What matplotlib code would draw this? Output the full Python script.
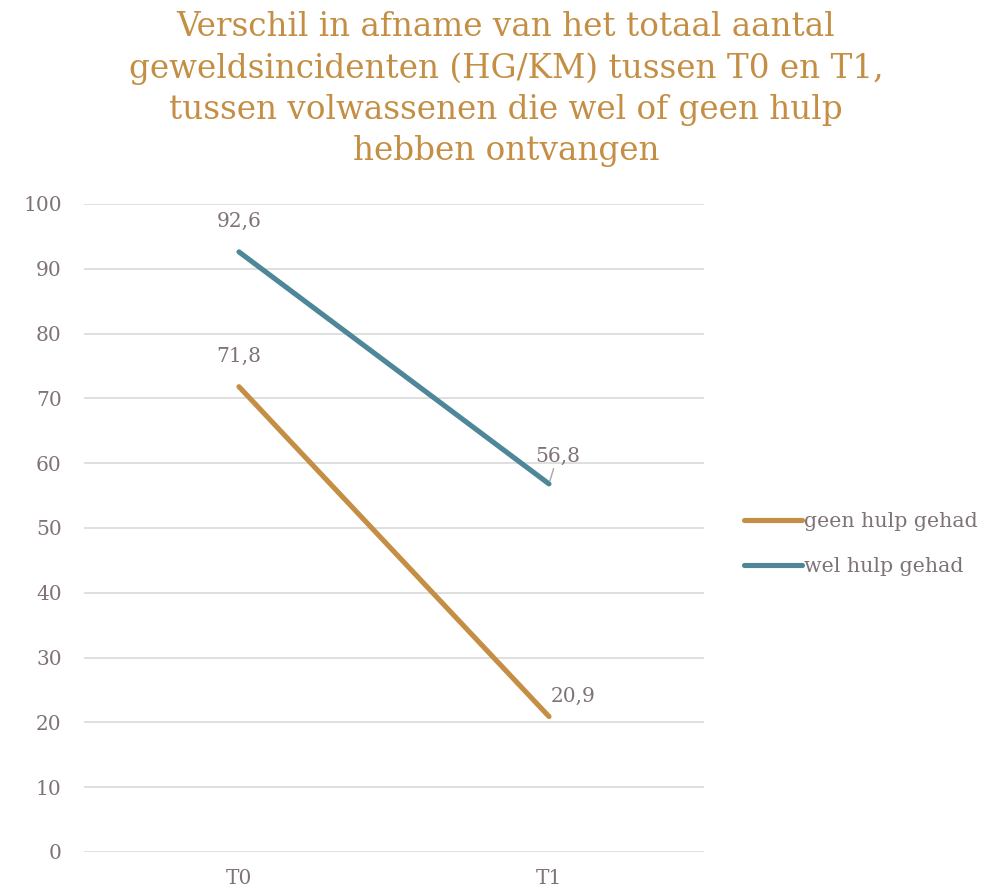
import matplotlib
matplotlib.use('Agg')
import matplotlib.pyplot as plt

# data
categories = ['T0', 'T1']
geen_hulp = [71.8, 20.9]
wel_hulp = [92.6, 56.8]
series_names = ['geen hulp gehad', 'wel hulp gehad']

title = ('Verschil in afname van het totaal aantal\n'
         'geweldsincidenten (HG/KM) tussen T0 en T1,\n'
         'tussen volwassenen die wel of geen hulp\n'
         'hebben ontvangen')

ORANGE = '#C48F44'
BLUE = '#4E8797'
TEXT = '#7F7377'
GRID = '#D9D9D9'

plt.rcParams['font.family'] = ['DejaVu Serif']

fig = plt.figure(figsize=(10.02, 8.91), dpi=100)
ax = fig.add_axes([0.0838, 0.0438, 0.6188, 0.7273])

x = list(range(len(categories)))
ax.plot(x, geen_hulp, color=ORANGE, lw=3.7, solid_capstyle='round', label=series_names[0], zorder=3)
ax.plot(x, wel_hulp, color=BLUE, lw=3.7, solid_capstyle='round', label=series_names[1], zorder=3)

ax.set_xlim(-0.5, 1.5)
ax.set_ylim(0, 100)
ax.set_yticks(range(0, 101, 10))
ax.set_xticks(x)
ax.set_xticklabels(categories)
ax.grid(axis='y', color=GRID, lw=1.2)
ax.set_axisbelow(True)
for s in ax.spines.values():
    s.set_visible(False)
ax.tick_params(axis='both', length=0, colors=TEXT, labelsize=14.5)
ax.tick_params(axis='y', pad=16)
ax.tick_params(axis='x', pad=12)

def fmt(v):
    return f'{v:.1f}'.replace('.', ',')

# data labels
lab = dict(color=TEXT, fontsize=14.5)
ax.annotate(fmt(wel_hulp[0]), (0, wel_hulp[0]), xytext=(0, 15), textcoords='offset points',
            ha='center', va='bottom', **lab)
ax.annotate(fmt(geen_hulp[0]), (0, geen_hulp[0]), xytext=(0, 15), textcoords='offset points',
            ha='center', va='bottom', **lab)
ax.annotate(fmt(geen_hulp[1]), (1, geen_hulp[1]), xytext=(1, 8), textcoords='offset points',
            ha='left', va='bottom', **lab)
ax.annotate(fmt(wel_hulp[1]), (1, wel_hulp[1]), xytext=(6, 13), textcoords='offset points',
            ha='center', va='bottom', **lab,
            arrowprops=dict(arrowstyle='-', color='#A6A6A6', lw=1, shrinkA=0, shrinkB=2))

leg = ax.legend(loc='center left', bbox_to_anchor=(1.035, 0.475), frameon=False,
                fontsize=14.8, handlelength=2.8, handletextpad=0.1, labelspacing=1.25)
for t in leg.get_texts():
    t.set_color(TEXT)

fig.text(0.505, 0.988, title, ha='center', va='top', color=ORANGE, fontsize=23.5, linespacing=1.37)

fig.savefig('out.png', dpi=100)
